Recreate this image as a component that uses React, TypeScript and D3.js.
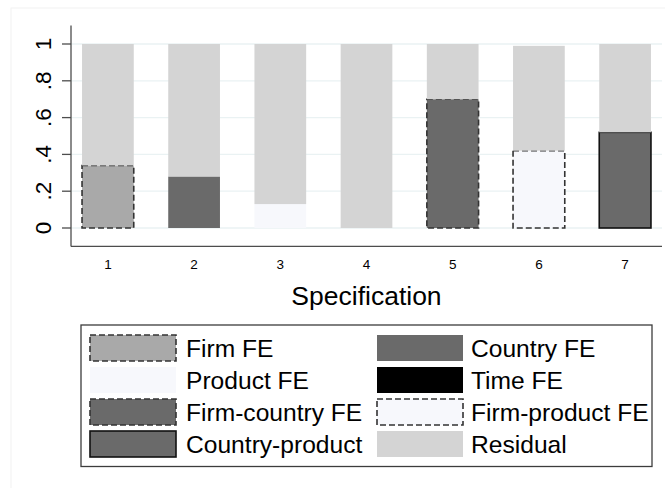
import React from "react";
import * as d3 from "d3";

const specs = ["1", "2", "3", "4", "5", "6", "7"];
const firmFE = [0.34, 0, 0, 0, 0, 0, 0];
const countryFE = [0, 0.28, 0, 0, 0, 0, 0];
const productFE = [0, 0, 0.13, 0, 0, 0, 0];
const timeFE = [0, 0, 0, 0, 0, 0, 0];
const firmCountryFE = [0, 0, 0, 0, 0.70, 0, 0];
const firmProductFE = [0, 0, 0, 0, 0, 0.42, 0];
const countryProduct = [0, 0, 0, 0, 0, 0, 0.52];
const residual = [0.66, 0.72, 0.87, 1.0, 0.30, 0.57, 0.48];
const yTicks = [0, 0.2, 0.4, 0.6, 0.8, 1];
const yTickLabels = ["0", ".2", ".4", ".6", ".8", "1"];

const seriesNames = [
  "Firm FE",
  "Country FE",
  "Product FE",
  "Time FE",
  "Firm-country FE",
  "Firm-product FE",
  "Country-product",
  "Residual",
];
const seriesValues = [
  firmFE,
  countryFE,
  productFE,
  timeFE,
  firmCountryFE,
  firmProductFE,
  countryProduct,
  residual,
];

type Style = { fill: string; stroke: string; dash: string | null; sw: number };
const styles: Style[] = [
  { fill: "#a9a9a9", stroke: "#333333", dash: "6,3", sw: 1.6 },
  { fill: "#6a6a6a", stroke: "#6a6a6a", dash: null, sw: 0 },
  { fill: "#f7f8fc", stroke: "#f7f8fc", dash: null, sw: 0 },
  { fill: "#000000", stroke: "#000000", dash: null, sw: 0 },
  { fill: "#6a6a6a", stroke: "#333333", dash: "6,3", sw: 1.6 },
  { fill: "#f7f8fc", stroke: "#333333", dash: "6,3", sw: 1.6 },
  { fill: "#6a6a6a", stroke: "#111111", dash: null, sw: 1.6 },
  { fill: "#d4d4d4", stroke: "#d4d4d4", dash: null, sw: 0 },
];

const FONT = "'Liberation Sans', Arial, Helvetica, sans-serif";

export default function App() {
  const W = 665;
  const H = 488;
  const x = d3
    .scaleBand<string>()
    .domain(specs)
    .range([71, 662])
    .paddingInner(0.4)
    .paddingOuter(0.128);
  const y = d3.scaleLinear().domain([-0.1, 1.1]).range([246.4, 25.6]);

  const table = specs.map((s, i) => {
    const row: Record<string, number | string> = { spec: s };
    seriesNames.forEach((n, k) => (row[n] = seriesValues[k][i]));
    return row;
  });
  const stacked = d3.stack<Record<string, number | string>>().keys(seriesNames)(
    table as any
  );

  // legend layout
  const legX = 81;
  const legY = 325;
  const legW = 571;
  const legH = 141.5;
  const colSwX = [90, 377];
  const colTxtX = [186, 471];
  const swW = 86;
  const swH = 26;
  const rowY0 = 348;
  const rowStep = 32;

  return (
    <svg
      width={W}
      height={H}
      style={{ position: "absolute", left: 0, top: 0, background: "#ffffff" }}
      fontFamily={FONT}
    >
      <rect x={0} y={0} width={W} height={H} fill="#ffffff" />
      <rect x={11} y={8} width={W} height={H} fill="none" stroke="#f2f2f2" strokeWidth={1} />
      {/* gridlines */}
      {yTicks.map((t) => (
        <line
          key={"g" + t}
          x1={71}
          x2={662}
          y1={y(t)}
          y2={y(t)}
          stroke="#eaf2f3"
          strokeWidth={1.3}
        />
      ))}
      {/* bars */}
      {stacked.map((layer, k) =>
        layer.map((d, i) => {
          const h = y(d[0]) - y(d[1]);
          if (h <= 0.01) return null;
          const st = styles[k];
          return (
            <rect
              key={k + "-" + i}
              x={x(specs[i])!}
              y={y(d[1])}
              width={x.bandwidth()}
              height={h}
              fill={st.fill}
              stroke={st.sw > 0 ? st.stroke : "none"}
              strokeWidth={st.sw}
              strokeDasharray={st.dash ?? undefined}
            />
          );
        })
      )}
      {/* axes */}
      <line x1={71} x2={71} y1={25.6} y2={246.4} stroke="#4d4d4d" strokeWidth={1.3} />
      <line x1={71} x2={662} y1={246.4} y2={246.4} stroke="#4d4d4d" strokeWidth={1.3} />
      {yTicks.map((t, i) => (
        <g key={"t" + t}>
          <line x1={62} x2={71} y1={y(t)} y2={y(t)} stroke="#4d4d4d" strokeWidth={1.3} />
          <text
            transform={`translate(51,${y(t)}) rotate(-90)`}
            textAnchor="middle"
            fontSize={22.5}
            fill="#000"
          >
            {yTickLabels[i]}
          </text>
        </g>
      ))}
      {specs.map((s) => (
        <text
          key={"x" + s}
          x={x(s)! + x.bandwidth() / 2}
          y={269}
          textAnchor="middle"
          fontSize={13.5}
          fill="#000"
        >
          {s}
        </text>
      ))}
      <text x={366.5} y={305} textAnchor="middle" fontSize={26.5} fill="#000">
        Specification
      </text>
      {/* legend */}
      <rect
        x={legX}
        y={legY}
        width={legW}
        height={legH}
        fill="#ffffff"
        stroke="#3c3c3c"
        strokeWidth={1.3}
      />
      {seriesNames.map((n, k) => {
        const col = k % 2;
        const row = Math.floor(k / 2);
        const cy = rowY0 + row * rowStep;
        const st = styles[k];
        return (
          <g key={"l" + n}>
            <rect
              x={colSwX[col]}
              y={cy - swH / 2}
              width={swW}
              height={swH}
              fill={st.fill}
              stroke={st.sw > 0 ? st.stroke : "none"}
              strokeWidth={st.sw}
              strokeDasharray={st.dash ?? undefined}
            />
            <text x={colTxtX[col]} y={cy + 8.8} fontSize={24.6} fill="#000">
              {n}
            </text>
          </g>
        );
      })}
    </svg>
  );
}
